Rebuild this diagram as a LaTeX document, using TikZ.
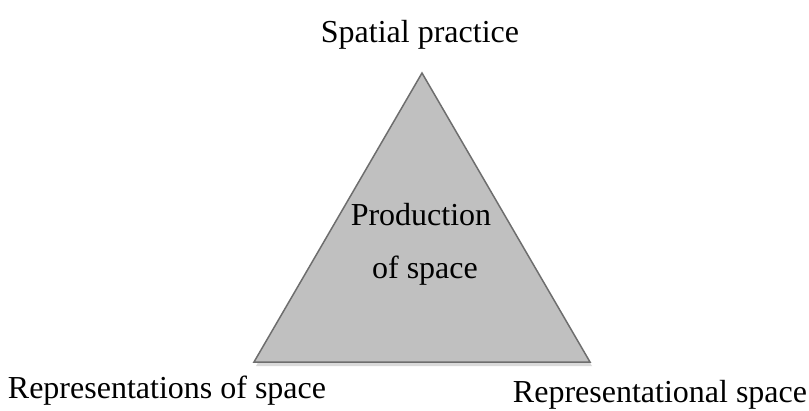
\documentclass[tikz,border=0pt]{standalone}
\usepackage{fontspec}
\setmainfont{Liberation Serif}
\definecolor{trifill}{HTML}{C0C0C0}
\definecolor{triedge}{HTML}{6E6E6E}
\definecolor{trishadow}{HTML}{DADADA}
\begin{document}
\begin{tikzpicture}[x=1pt,y=-1pt,
  label/.style={inner sep=0pt,anchor=base,font=\fontsize{32}{38}\selectfont},
  triangle/.style={fill=trifill,draw=triedge,line width=1.5pt,line join=miter},
  shadowshape/.style={fill=trishadow}]
\useasboundingbox (0,0) rectangle (809,410);
% corners of the triangle
\coordinate (top) at (422,73);
\coordinate (bl) at (254,362);
\coordinate (br) at (590,362);
% soft shadow under the base
\fill[shadowshape] ([shift={(2,4)}]top) -- ([shift={(2,4)}]bl) -- ([shift={(2,4)}]br) -- cycle;
\draw[triangle] (top) -- (bl) -- (br) -- cycle;
% labels
\node[label] (sp) at (420,42) {Spatial practice};
\node[label] (prod) at (421,225) {Production};
\node[label] (of) at (425,278) {of space};
\node[label] (ros) at (167,398) {Representations of space};
\node[label] (rs) at (660,402) {Representational space};
\end{tikzpicture}
\end{document}
